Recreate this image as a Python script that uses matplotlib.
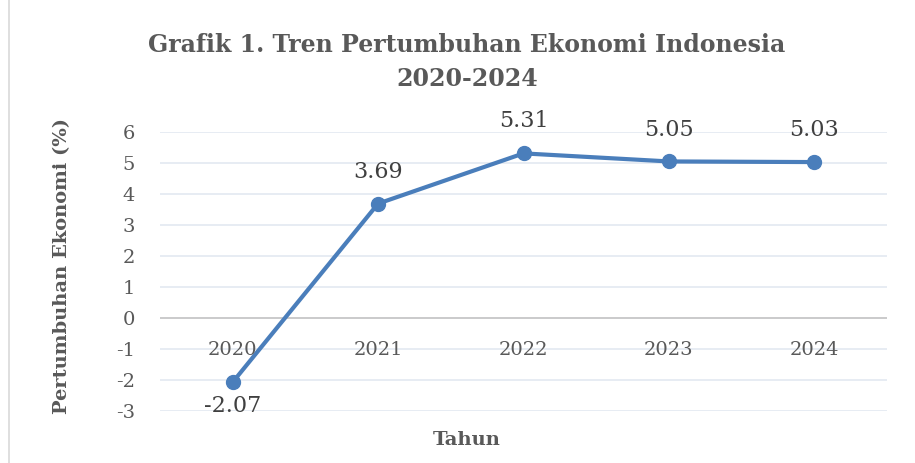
import matplotlib.pyplot as plt
from matplotlib.lines import Line2D

years = ["2020", "2021", "2022", "2023", "2024"]
growth = [-2.07, 3.69, 5.31, 5.05, 5.03]
y_ticks = [-3, -2, -1, 0, 1, 2, 3, 4, 5, 6]

plt.rcParams['font.family'] = 'DejaVu Serif'

fig = plt.figure(figsize=(9.15, 4.63), dpi=100)
ax = fig.add_axes([160 / 915, 1 - 411 / 463, 727 / 915, 279 / 463])

x = list(range(len(years)))
ax.plot(x, growth, color="#4A7EBB", linewidth=3, marker="o", markersize=10, zorder=3)

ax.set_xlim(-0.5, len(years) - 0.5)
ax.set_ylim(-3, 6)
ax.set_yticks(y_ticks)
ax.set_yticklabels([str(t) for t in y_ticks])
ax.tick_params(axis="y", length=0, pad=18, labelsize=14, labelcolor="#595959")
ax.set_xticks([])
ax.grid(axis="y", color="#E3E9F1", linewidth=1.2)
ax.set_axisbelow(True)
for s in ax.spines.values():
    s.set_visible(False)
ax.axhline(0, color="#C8C8C8", linewidth=1.3, zorder=1)

# category labels sit under the zero line, Excel style
for i, yr in enumerate(years):
    ax.annotate(yr, (i, 0), xytext=(0, -23), textcoords="offset points",
                ha="center", va="center", fontsize=14, color="#595959")

# data labels
for i, v in enumerate(growth):
    dy = -17 if v < 0 else 23
    ax.annotate(f"{v:.2f}", (i, v), xytext=(0, dy), textcoords="offset points",
                ha="center", va="center", fontsize=16, color="#404040")

fig.text(467 / 915, 1 - 62 / 463, "Grafik 1. Tren Pertumbuhan Ekonomi Indonesia\n2020-2024",
         ha="center", va="center", fontsize=17, fontweight="bold", color="#595959",
         linespacing=1.5)
fig.text(62 / 915, 1 - 266 / 463, "Pertumbuhan Ekonomi (%)", rotation=90,
         ha="center", va="center", fontsize=14, fontweight="bold", color="#595959")
fig.text(467 / 915, 1 - 440 / 463, "Tahun", ha="center", va="center",
         fontsize=14, fontweight="bold", color="#595959")

# chart border on the left
fig.add_artist(Line2D([9 / 915, 9 / 915], [0, 1], color="#D9D9D9", linewidth=1.2))

fig.savefig("out.png", dpi=100)
